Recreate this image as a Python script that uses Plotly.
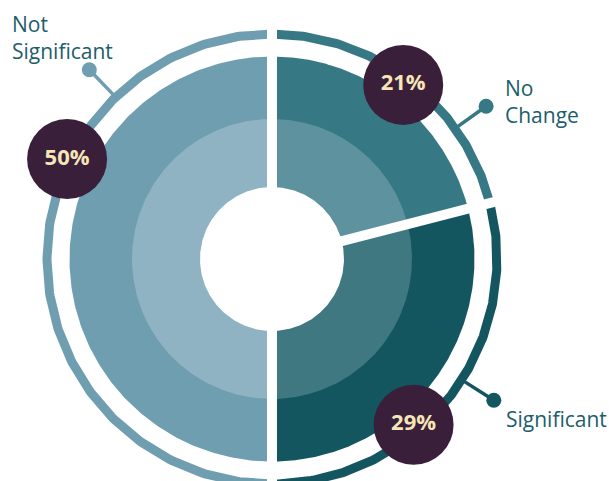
import numpy as np
import plotly.graph_objects as go

# --- data -------------------------------------------------------------
categories = ["No Change", "Significant", "Not Significant"]
shares = [21, 29, 50]  # percent, clockwise from 12 o'clock
label_text = ["No<br>Change", "Significant", "Not<br>Significant"]

# --- styling ----------------------------------------------------------
outer_colors = ["#367883", "#135660", "#6E9EAF"]
inner_colors = ["#5E929E", "#3F7880", "#8FB3C2"]
badge_color = "#3A1F3A"
badge_text = "#F5E6B8"
label_color = "#1D5D6C"

R_OUTER, R_INNER, R_HOLE = 202.5, 140, 72
R_RING, RING_W = 225, 9
GAP_W = 10

# badge and leader placement (degrees clockwise from 12 o'clock, px radius)
badge_angle = [37, 139.5, 296]
badge_radius = [218, 218, 228]
leader_angle = [54.5, 122.5, 316]
leader_r0, leader_r1 = 225, 263
# label block anchor (left edge, vertical middle) in px offsets from chart centre
label_pos = [(231, 158), (232, -160), (-262, 222)]

CX, CY = 272, 259  # chart centre in page pixels (axes use px offsets)


def polar(r, deg):
    t = np.radians(deg)
    return r * np.sin(t), r * np.cos(t)


bounds = np.concatenate([[0], np.cumsum(shares)]) * 3.6

fig = go.Figure()


def wedge(r, a0, a1, color):
    th = np.linspace(a0, a1, 240)
    x, y = polar(r, th)
    x = np.concatenate([[0], x, [0]])
    y = np.concatenate([[0], y, [0]])
    fig.add_trace(go.Scatter(x=x, y=y, mode="lines", fill="toself",
                             fillcolor=color, line=dict(width=0, color=color),
                             hoverinfo="skip"))


# outer band then inner band
for i in range(len(shares)):
    wedge(R_OUTER, bounds[i], bounds[i + 1], outer_colors[i])
for i in range(len(shares)):
    wedge(R_INNER, bounds[i], bounds[i + 1], inner_colors[i])

# thin outer ring arcs
for i in range(len(shares)):
    th = np.linspace(bounds[i], bounds[i + 1], 240)
    x, y = polar(R_RING, th)
    fig.add_trace(go.Scatter(x=x, y=y, mode="lines",
                             line=dict(width=RING_W, color=outer_colors[i]),
                             hoverinfo="skip"))

# white separators between slices
for b in bounds[:-1]:
    x, y = polar(np.array([0, R_RING + 20]), b)
    fig.add_trace(go.Scatter(x=x, y=y, mode="lines",
                             line=dict(width=GAP_W, color="white"),
                             hoverinfo="skip"))

# centre hole
th = np.linspace(0, 360, 361)
hx, hy = polar(R_HOLE, th)
fig.add_trace(go.Scatter(x=hx, y=hy, mode="lines", fill="toself",
                         fillcolor="white", line=dict(width=0, color="white"),
                         hoverinfo="skip"))

# leader lines with end dots
for i in range(len(shares)):
    x, y = polar(np.array([leader_r0, leader_r1]), leader_angle[i])
    fig.add_trace(go.Scatter(x=x, y=y, mode="lines",
                             line=dict(width=3.5, color=outer_colors[i]),
                             hoverinfo="skip"))
    fig.add_trace(go.Scatter(x=[x[1]], y=[y[1]], mode="markers",
                             marker=dict(size=15, color=outer_colors[i]),
                             hoverinfo="skip"))

# percentage badges
bx, by = polar(np.array(badge_radius), np.array(badge_angle))
fig.add_trace(go.Scatter(
    x=bx, y=by, mode="markers+text",
    marker=dict(size=80, color=badge_color, line=dict(width=0)),
    text=[f"{v}%" for v in shares], textposition="middle center",
    textfont=dict(family="Open Sans", size=22, color=badge_text, weight="bold"),
    hoverinfo="skip"))

# category labels
for txt, (lx, ly) in zip(label_text, label_pos):
    fig.add_annotation(x=lx, y=ly, text=txt, showarrow=False,
                       xanchor="left", yanchor="middle", align="left",
                       font=dict(family="Open Sans", size=21, color=label_color))

fig.update_layout(
    width=609, height=481, autosize=False,
    margin=dict(l=0, r=0, t=0, b=0),
    paper_bgcolor="white", plot_bgcolor="white",
    showlegend=False, hovermode=False,
    xaxis=dict(range=[-CX, 609 - CX], visible=False, fixedrange=True),
    yaxis=dict(range=[CY - 481, CY], visible=False, fixedrange=True),
)

fig.write_html("out.html")
